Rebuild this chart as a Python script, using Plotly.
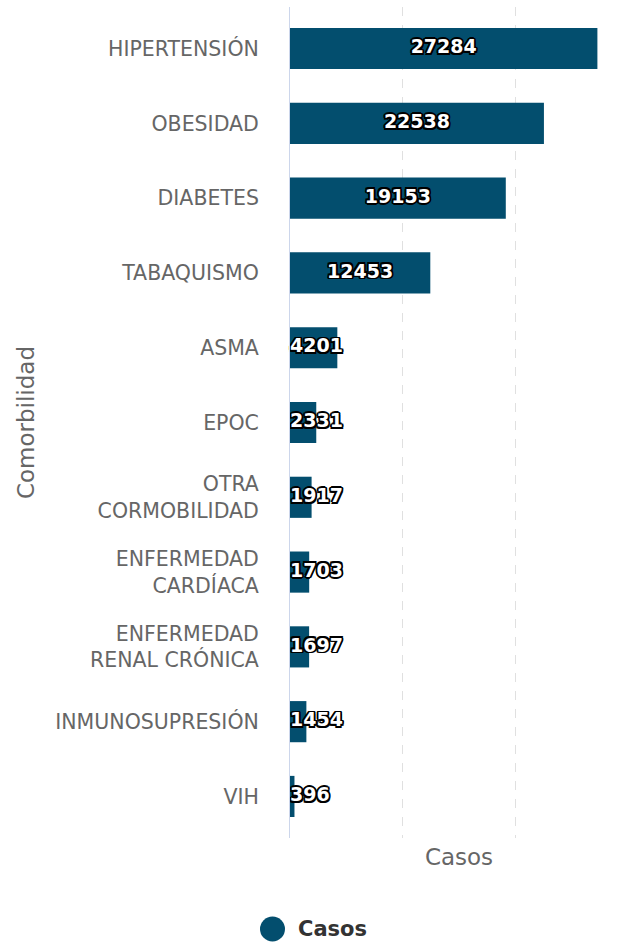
import plotly.graph_objects as go

categories = ["HIPERTENSIÓN", "OBESIDAD", "DIABETES", "TABAQUISMO", "ASMA", "EPOC",
              "OTRA<br>CORMOBILIDAD", "ENFERMEDAD<br>CARDÍACA", "ENFERMEDAD<br>RENAL CRÓNICA",
              "INMUNOSUPRESIÓN", "VIH"]
casos = [27284, 22538, 19153, 12453, 4201, 2331, 1917, 1703, 1697, 1454, 396]
series_name = "Casos"

BAR = "#034e6e"
FONT = "DejaVu Sans"
OUTLINE = ("1.5px 1.5px 0 #000, -1.5px -1.5px 0 #000, 1.5px -1.5px 0 #000, -1.5px 1.5px 0 #000, "
           "0 1.8px 0 #000, 0 -1.8px 0 #000, 1.8px 0 0 #000, -1.8px 0 0 #000")

W, H = 628, 948
ML, MR, MT, MB = 290, 0, 7, 110

fig = go.Figure()
fig.add_trace(go.Bar(y=categories, x=casos, orientation="h", name=series_name,
                     marker=dict(color=BAR, line=dict(width=0)),
                     showlegend=False, hoverinfo="x+y"))

label_font = dict(family=FONT, size=19, color="white", weight="bold", shadow=OUTLINE)
# data labels: centred in long bars, starting at the axis for short ones
big = [(c, v) for c, v in zip(categories, casos) if v >= 5000]
small = [(c, v) for c, v in zip(categories, casos) if v < 5000]
fig.add_trace(go.Scatter(y=[c for c, v in big], x=[v / 2 for c, v in big], mode="text",
                         text=[str(v) for c, v in big], textposition="middle center",
                         textfont=label_font, showlegend=False, hoverinfo="skip", cliponaxis=False))
fig.add_trace(go.Scatter(y=[c for c, v in small], x=[0 for c, v in small], mode="text",
                         text=[str(v) for c, v in small], textposition="middle right",
                         textfont=label_font, showlegend=False, hoverinfo="skip", cliponaxis=False))

# legend (drawn by hand to get a large round symbol)
pw = W - ML - MR
ph = H - MT - MB
leg_y = (H - MB - 929) / ph
fig.add_shape(type="circle", xref="paper", yref="paper", xsizemode="pixel", ysizemode="pixel",
              xanchor=(272.5 - ML) / pw, yanchor=leg_y, x0=-12.5, x1=12.5, y0=-12.5, y1=12.5,
              fillcolor=BAR, line=dict(width=0))
fig.add_annotation(xref="paper", yref="paper", x=(296 - ML) / pw, y=leg_y, xanchor="left", yanchor="middle",
                   text="<b>" + series_name + "</b>", showarrow=False,
                   font=dict(family=FONT, size=21, color="#333333"))

fig.update_layout(
    width=W, height=H,
    margin=dict(l=ML, r=MR, t=MT, b=MB),
    plot_bgcolor="white", paper_bgcolor="white",
    bargap=0.45,
    showlegend=False,
    font=dict(family=FONT, color="#666666"),
    xaxis=dict(range=[0, 30000], dtick=10000, showticklabels=False, showgrid=True,
               gridcolor="#e0e0e0", griddash="dash", gridwidth=1, zeroline=False,
               automargin=False,
               title=dict(text="Casos", font=dict(size=23, color="#666666"), standoff=10),
               fixedrange=True),
    yaxis=dict(autorange="reversed", showline=True, linecolor="#ccd6eb", linewidth=1,
               ticks="", tickfont=dict(size=20.5, color="#666666"), ticklabelstandoff=26,
               automargin=False,
               title=dict(text="Comorbilidad", font=dict(size=23, color="#666666"), standoff=14),
               fixedrange=True),
)

fig.write_html("out.html", config={"displayModeBar": False},
               post_script="document.body.style.margin='0';")
